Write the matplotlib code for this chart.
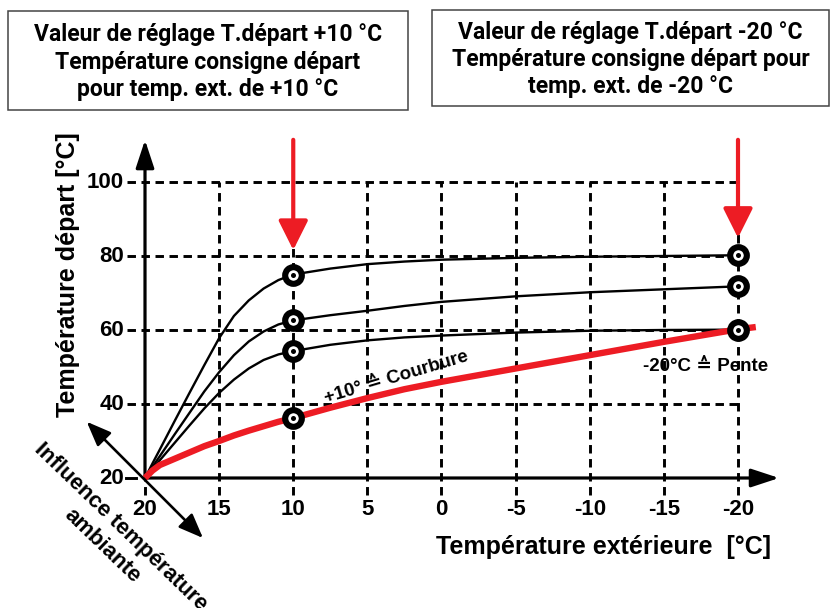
"""Heating curve diagram: flow temperature set point vs outdoor temperature."""

import matplotlib

matplotlib.use("Agg")
import matplotlib.pyplot as plt
from matplotlib.patches import Rectangle

# axis ticks (outdoor axis runs from +20 down to -20)
X_TICKS = [20, 15, 10, 5, 0, -5, -10, -15, -20]
Y_TICKS = [20, 40, 60, 80, 100]

# black heating curves
CURVE_X = [20, 19.5, 19, 18, 17, 16, 15, 14, 13, 12, 11, 10, 7.5, 5, 2.5, 0, -5, -10, -15, -20]
CURVE_HIGH = [20, 23.9, 27.7, 35.4, 43, 50.5, 57.8, 63.8, 68, 71.2, 73.5, 75,
              76.6, 77.8, 78.5, 79, 79.5, 79.8, 80, 80.2]
CURVE_MID = [20, 23, 25.9, 31.8, 37.6, 43.4, 48.6, 53.2, 56.9, 59.6, 61.5, 62.6,
             64, 65.2, 66.5, 67.6, 69.1, 70.2, 71, 71.8]
CURVE_LOW = [20, 22.4, 24.8, 29.5, 34.2, 38.8, 43, 46.6, 49.6, 51.9, 53.4, 54.3,
             56, 57.2, 58, 58.5, 59.3, 59.8, 60, 60.1]

# red curve
RED_X = [20, 19.5, 19, 18, 17, 16, 15, 14, 13, 12, 11, 10, 7.5, 5, 2.5, 0,
         -5, -10, -15, -20, -21.2]
RED_Y = [20, 22, 23.5, 25.2, 26.9, 28.6, 30, 31.5, 32.8, 34, 35.2, 36.2, 39, 41.6, 44, 46,
         49.6, 53.2, 56.8, 60.2, 60.8]

# set points marked with the sensor symbol
MARK_X = [10, 10, 10, 10, -20, -20, -20]
MARK_Y = [75, 62.6, 54.3, 36.2, 80.2, 71.8, 60.1]

# red arrows pointing at the two set-point temperatures
ARROW_X = [10, -20]
ARROW_TIP = [81.6, 84.9]

BOX_TEXTS = [
    "Valeur de réglage T.départ +10 °C\nTempérature consigne départ\npour temp. ext. de +10 °C",
    "Valeur de réglage T.départ -20 °C\nTempérature consigne départ pour\ntemp. ext. de -20 °C",
]
Y_LABEL = "Température départ [°C]"
X_LABEL = "Température extérieure  [°C]"
AMBIENT_LABEL = "Influence température\nambiante"
CURVATURE_LABEL = "+10° ≙ Courbure"
SLOPE_LABEL = "-20°C ≙ Pente"

RED = "#ED1C24"
FONT = ["Liberation Sans", "DejaVu Sans"]
BOX_FONT = ["Roboto", "DejaVu Sans"]


def main() -> None:
    plt.rcParams["font.family"] = FONT
    fig = plt.figure(figsize=(8.3, 6.08), dpi=100)

    # data axes fill the figure: 14.825 px per degC, 3.7 px per unit of flow temp
    ax = fig.add_axes([0, 0, 1, 1])
    ax.set_xlim(29.781, -26.206)
    ax.set_ylim(-15.135, 149.19)
    ax.set_axis_off()

    dash = dict(color="black", lw=2.1, dashes=[2.9, 1.9], zorder=1)
    for y in Y_TICKS:
        if y == 20:
            ax.plot([21.25, 20.6], [y, y], color="black", lw=2.1, zorder=1)
        else:
            ax.plot([21.2, X_TICKS[-1]], [y, y], **dash)
        ax.text(21.4, y, str(y), ha="right", va="center", fontsize=16, fontweight="bold")
    for x in X_TICKS:
        y_top = 20 if x == 20 else Y_TICKS[-1]
        ax.plot([x, x], [15.4, y_top], **dash)
        ax.text(x, 11.6, str(x), ha="center", va="center", fontsize=16, fontweight="bold")

    # axes with arrow heads
    axis_arrow = dict(arrowstyle="-|>,head_length=0.85,head_width=0.28", lw=2.3,
                      color="black", mutation_scale=20, shrinkA=0, shrinkB=0)
    ax.annotate("", xy=(20, 111.35), xytext=(20, 20), arrowprops=axis_arrow, zorder=2)
    ax.annotate("", xy=(-22.77, 20), xytext=(20, 20), arrowprops=axis_arrow, zorder=2)

    # room temperature influence double arrow
    ax.annotate("", xy=(16.09, 3.78), xytext=(23.93, 35.2),
                arrowprops=dict(arrowstyle="<|-|>,head_length=0.75,head_width=0.3", lw=1.9,
                                color="black", mutation_scale=20, shrinkA=0, shrinkB=0),
                zorder=2)

    for ys in (CURVE_HIGH, CURVE_MID, CURVE_LOW):
        ax.plot(CURVE_X, ys, color="black", lw=1.7, zorder=3, solid_joinstyle="round")
    ax.plot(RED_X, RED_Y, color=RED, lw=4.6, zorder=4, solid_capstyle="butt",
            solid_joinstyle="round")

    ax.plot(MARK_X, MARK_Y, ls="none", marker="o", ms=12, mfc="white", mec="black",
            mew=4.4, zorder=5)
    ax.plot(MARK_X, MARK_Y, ls="none", marker="o", ms=3.6, mfc="black", mec="black",
            mew=0, zorder=6)

    for x, tip in zip(ARROW_X, ARROW_TIP):
        ax.annotate("", xy=(x, tip), xytext=(x, 111.4),
                    arrowprops=dict(arrowstyle="-|>,head_length=0.9,head_width=0.45", lw=3,
                                    color=RED, mutation_scale=20, shrinkA=0, shrinkB=0),
                    zorder=7)

    ax.text(3.07, 47.2, CURVATURE_LABEL, rotation=16.5, rotation_mode="anchor",
            ha="center", va="center", fontsize=13.5, fontweight="bold", zorder=8)
    ax.text(-17.84, 50.1, SLOPE_LABEL, ha="center", va="center", fontsize=13.5,
            fontweight="bold", zorder=8)

    ax.text(25.2, 74.9, Y_LABEL, rotation=90, ha="center", va="center",
            fontsize=18, fontweight="bold")
    ax.text(-10.9, 1.35, X_LABEL, ha="center", va="center", fontsize=18, fontweight="bold")
    ax.text(22.29, 4.32, AMBIENT_LABEL, rotation=-44, rotation_mode="anchor",
            ha="center", va="center", multialignment="center", linespacing=1.35,
            fontsize=16, fontweight="bold")

    # header boxes in pixel coordinates
    top = fig.add_axes([0, 0, 1, 1], facecolor="none")
    top.set_xlim(0, 830)
    top.set_ylim(608, 0)
    top.set_axis_off()
    boxes = [(8, 11, 400, 99), (432, 10, 397, 96)]
    for (bx, by, bw, bh), text in zip(boxes, BOX_TEXTS):
        top.add_patch(Rectangle((bx, by), bw, bh, facecolor="white", edgecolor="#444444",
                                lw=1.1))
        top.text(bx + bw / 2, by + bh / 2 + 1.5, text, ha="center", va="center",
                 multialignment="center", linespacing=1.25, fontsize=16.5,
                 fontweight="bold", family=BOX_FONT)

    fig.savefig("out.png", dpi=100)
    plt.close(fig)


if __name__ == "__main__":
    main()
